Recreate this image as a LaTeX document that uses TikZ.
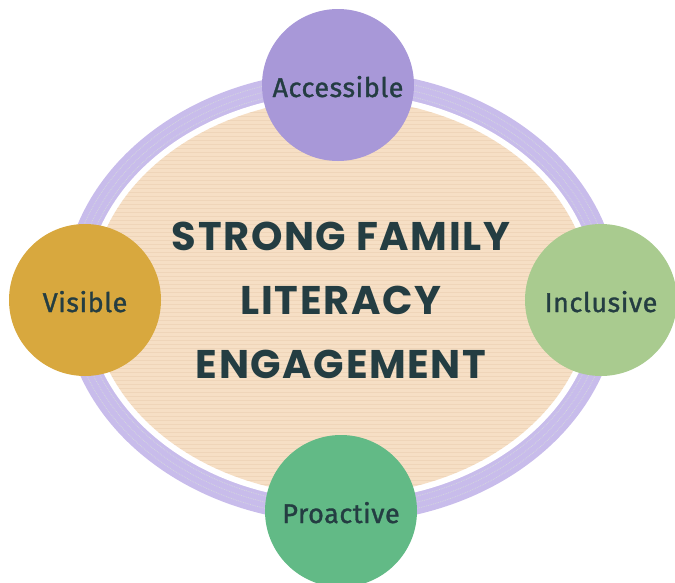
\documentclass[tikz,border=0pt]{standalone}
\usepackage{fontspec}
\newfontfamily\titlefont{Poppins}[LetterSpace=4]
\newfontfamily\labelfont{Fira Sans}[FakeBold=1.2, LetterSpace=2]
\definecolor{ink}{HTML}{243D42}
\definecolor{ringlav}{HTML}{C8BCEB}
\definecolor{ringspeck}{HTML}{DCE8D6}
\definecolor{peach}{HTML}{F6DFC5}
\definecolor{peachline}{HTML}{EACDAF}
\definecolor{lavender}{HTML}{A898D8}
\definecolor{mustard}{HTML}{D8A83E}
\definecolor{sage}{HTML}{A9CB8F}
\definecolor{leaf}{HTML}{62BA86}

\begin{document}
\begin{tikzpicture}[x=1pt, y=-1pt, thick,
  main/.style = {circle, minimum size=152pt, inner sep=0pt, text=ink,
    text height=24pt, text depth=0pt,
    font=\labelfont\fontsize{27}{30}\selectfont},
  title/.style = {align=center, text=ink,
    font=\titlefont\bfseries\fontsize{40}{64}\selectfont}]
\useasboundingbox (0,0) rectangle (675,582);

% ring and centre
\fill[ringlav] (341,297) ellipse [x radius=278, y radius=226];
\foreach \r in {4,10,16} \draw[ringspeck, densely dotted, opacity=.6] (341,297) ellipse [x radius=256+\r, y radius=204+\r];
\fill[white] (341,297) ellipse [x radius=256, y radius=204];
\fill[peach] (341,297) ellipse [x radius=250, y radius=198];
\begin{scope}
\clip (341,297) ellipse [x radius=250, y radius=198];
\foreach \y in {100,104,...,496} \draw[peachline, thin, opacity=.5] (80,\y) -- (600,\y);
\end{scope}

\node[title] (core) at (341,300) {STRONG FAMILY\\LITERACY\\ENGAGEMENT};

% the four circles
\node[main, fill=lavender] (acc) at (338,85) {Accessible};
\node[main, fill=mustard] (vis) at (85,300) {Visible};
\node[main, fill=sage] (inc) at (601,300) {Inclusive};
\node[main, fill=leaf] (pro) at (341,511) {Proactive};
\end{tikzpicture}
\end{document}
